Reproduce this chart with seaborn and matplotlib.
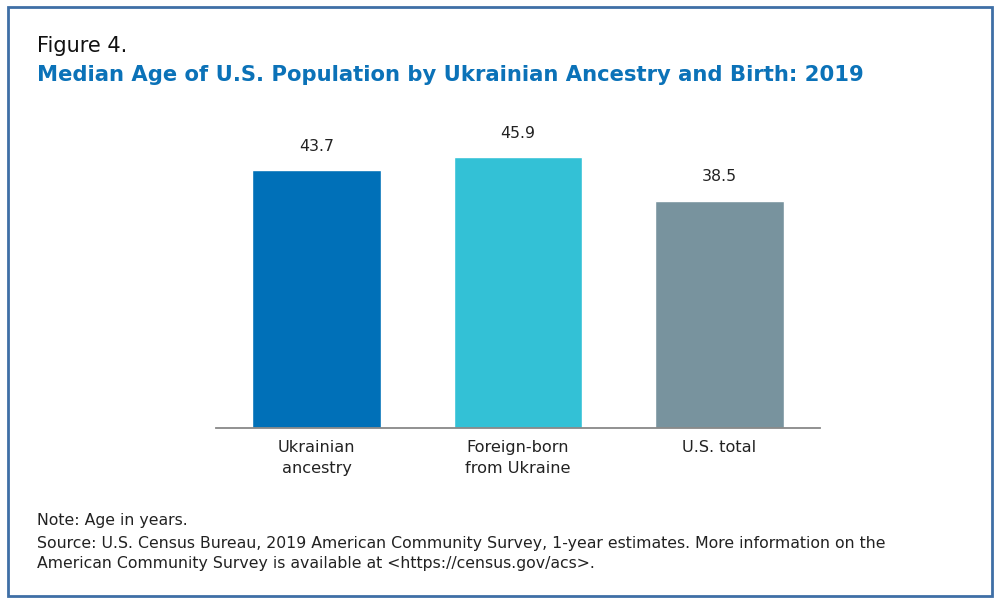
import matplotlib.pyplot as plt
import matplotlib.patches as mpatches
import pandas as pd
import seaborn as sns

groups = ['Ukrainian\nancestry', 'Foreign-born\nfrom Ukraine', 'U.S. total']
median_age = [43.7, 45.9, 38.5]
bar_colors = ['#0070b8', '#33c1d6', '#78939e']

df = pd.DataFrame({'group': groups, 'age': median_age})

sns.set_style('white')
plt.rcParams['font.family'] = ['DejaVu Sans']

fig = plt.figure(figsize=(10, 6.03), dpi=100)
ax = fig.add_axes([0.216, 0.2902, 0.604, 0.489])

sns.barplot(data=df, x='group', y='age', hue='group', palette=bar_colors,
            legend=False, width=0.64, saturation=1, ax=ax)

for i, v in enumerate(median_age):
    ax.annotate(f'{v:.1f}', (i, v), xytext=(0, 12), textcoords='offset points',
                ha='center', va='bottom', fontsize=11.3, color='#222222')

ax.set_xlim(-0.5, 2.5)
ax.set_ylim(0, 50)
ax.set_xlabel('')
ax.set_ylabel('')
ax.set_yticks([])
for s in ['top', 'right', 'left']:
    ax.spines[s].set_visible(False)
ax.spines['bottom'].set_color('#888888')
ax.spines['bottom'].set_linewidth(1.3)
ax.tick_params(axis='x', length=0, pad=8.5, labelsize=11.6, labelcolor='#222222')
for lbl in ax.get_xticklabels():
    lbl.set_linespacing(1.5)

fig.text(0.037, 0.913, 'Figure 4.', fontsize=15, color='#111111')
fig.text(0.037, 0.866, 'Median Age of U.S. Population by Ukrainian Ancestry and Birth: 2019',
         fontsize=15.2, fontweight='bold', color='#0b72b8')

fig.text(0.037, 0.137, 'Note: Age in years.', fontsize=11.3, color='#222222', va='center')
fig.text(0.037, 0.082,
         'Source: U.S. Census Bureau, 2019 American Community Survey, 1-year estimates. '
         'More information on the\nAmerican Community Survey is available at '
         '<https://census.gov/acs>.',
         fontsize=11.3, color='#222222', va='center', linespacing=1.38)

border = mpatches.Rectangle((0.008, 0.011), 0.984, 0.977, transform=fig.transFigure,
                            fill=False, edgecolor='#3f6fa6', linewidth=2)
fig.patches.append(border)

fig.savefig('out.png', dpi=100)
